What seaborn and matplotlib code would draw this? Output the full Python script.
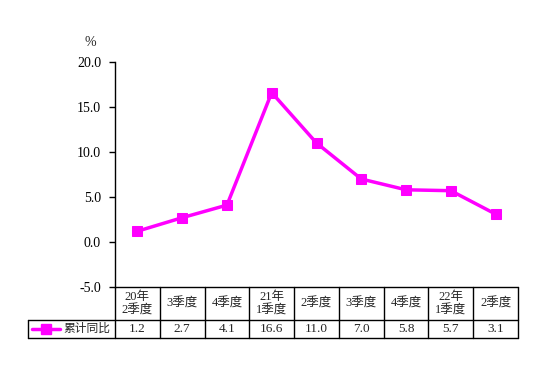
import matplotlib
matplotlib.use("Agg")
import matplotlib.pyplot as plt
import seaborn as sns
import pandas as pd

# 数据
jidu = ["20年\n2季度", "3季度", "4季度", "21年\n1季度", "2季度", "3季度", "4季度", "22年\n1季度", "2季度"]
leiji = [1.2, 2.7, 4.1, 16.6, 11.0, 7.0, 5.8, 5.7, 3.1]
y_ticks = [-5.0, 0.0, 5.0, 10.0, 15.0, 20.0]
serie = "累计同比"
color = "#FF00FF"

sns.set_style("white")
plt.rcParams["font.family"] = ["Liberation Serif", "Noto Sans CJK SC"]

df = pd.DataFrame({"x": range(len(jidu)), "y": leiji})

W, H = 554, 382
fig = plt.figure(figsize=(W / 100, H / 100), dpi=100)

# ejes principales, en pixeles
x0, x1 = 115, 518
y_top, y_bot = 62, 287
ax = fig.add_axes([x0 / W, (H - y_bot) / H, (x1 - x0) / W, (y_bot - y_top) / H])
sns.lineplot(data=df, x="x", y="y", ax=ax, color=color, lw=2.5,
             marker="s", markersize=7, markeredgecolor=color)
ax.set_xlim(-0.5, len(jidu) - 0.5)
ax.set_ylim(-5, 20)
ax.set_yticks(y_ticks)
ax.set_yticklabels([f"{v:.1f}" for v in y_ticks], fontsize=10)
ax.set_xticks([])
ax.set_xlabel("")
ax.set_ylabel("")
for s in ["top", "right", "bottom"]:
    ax.spines[s].set_visible(False)
ax.spines["left"].set_color("black")
ax.spines["left"].set_linewidth(1)
ax.tick_params(axis="y", direction="out", length=4, width=1, left=True, pad=6, colors="black")
fig.text(90 / W, (H - 42) / H, "%", fontsize=10, ha="center", va="center")

# tabla de datos
t_left = 28
unit = (x1 - x0) / len(jidu)
leg_w = (x0 - t_left) / unit
t_top, t_mid, t_bot = 287, 320, 338
tab = fig.add_axes([t_left / W, (H - t_bot) / H, (x1 - t_left) / W, (t_bot - t_top) / H])
tab.set_xlim(-0.5 - leg_w, len(jidu) - 0.5)
tab.set_ylim(0, t_bot - t_top)
tab.axis("off")
ym = t_bot - t_mid
yh = t_bot - t_top
kw = dict(color="black", lw=1, clip_on=False)
tab.plot([-0.5, len(jidu) - 0.5], [yh, yh], **kw)
tab.plot([-0.5 - leg_w, len(jidu) - 0.5], [ym, ym], **kw)
tab.plot([-0.5 - leg_w, len(jidu) - 0.5], [0, 0], **kw)
tab.plot([-0.5 - leg_w, -0.5 - leg_w], [0, ym], **kw)
for i in range(len(jidu) + 1):
    tab.plot([i - 0.5, i - 0.5], [0, yh], **kw)
for i, (lab, v) in enumerate(zip(jidu, leiji)):
    tab.text(i, (ym + yh) / 2, lab, ha="center", va="center", fontsize=9, linespacing=1.15)
    tab.text(i, ym / 2, f"{v:.1f}", ha="center", va="center", fontsize=9.5)
# leyenda dentro de la tabla
lx0 = -0.5 - leg_w + 4 / unit
lx1 = lx0 + 28 / unit
tab.plot([lx0, lx1], [ym / 2, ym / 2], color=color, lw=2.5, clip_on=False)
tab.plot([(lx0 + lx1) / 2], [ym / 2], marker="s", markersize=7, color=color, clip_on=False)
tab.text(lx1 + 3 / unit, ym / 2, serie, ha="left", va="center", fontsize=8.5)

fig.savefig("out.png", dpi=100)
